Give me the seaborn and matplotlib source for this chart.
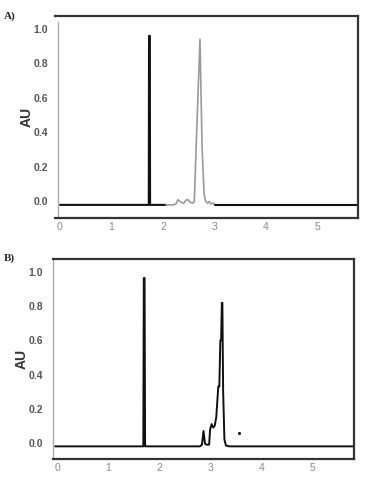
import matplotlib
matplotlib.use("Agg")
import matplotlib.pyplot as plt
import seaborn as sns
import pandas as pd
from matplotlib.ticker import MultipleLocator

sns.set_theme(style="white")
plt.rcParams["font.family"] = ["Liberation Sans", "DejaVu Sans"]

# ---- Data (retention time in min, absorbance in AU) ----
# Panel A
a_pre_time = [0.0, 1.725, 1.73, 1.745, 1.75, 2.06]
a_pre_au = [-0.02, -0.02, 0.96, 0.96, -0.02, -0.02]
a_peak_time = [2.06, 2.2, 2.25, 2.29, 2.33, 2.4, 2.45, 2.49, 2.53, 2.58, 2.61, 2.655,
               2.72, 2.76, 2.80, 2.83, 2.87, 2.9, 2.93, 2.97, 3.02]
a_peak_au = [-0.02, -0.02, -0.015, 0.01, 0.0, -0.012, 0.008, 0.01, -0.005, -0.01, 0.0,
             0.4, 0.94, 0.32, 0.04, 0.0, -0.01, 0.0, -0.015, -0.01, -0.02]
a_post_time = [3.02, 5.79]
a_post_au = [-0.02, -0.02]

# Panel B
b_time = [-0.04, 1.69, 1.70, 1.715, 1.725, 2.8, 2.84, 2.87, 2.9, 2.93, 2.98, 3.0, 3.03,
          3.06, 3.09, 3.12, 3.16, 3.18, 3.2, 3.215, 3.23, 3.24, 3.255, 3.28, 3.31, 3.37, 5.82]
b_au = [-0.02, -0.02, 0.965, 0.965, -0.02, -0.02, -0.01, 0.07, -0.005, -0.01, -0.01, 0.08,
        0.11, 0.09, 0.1, 0.15, 0.33, 0.33, 0.6, 0.6, 0.82, 0.82, 0.3, 0.02, -0.015, -0.02, -0.02]
b_dot_time = [3.57]
b_dot_au = [0.06]

x_ticks = [0, 1, 2, 3, 4, 5]
y_ticks = [0.0, 0.2, 0.4, 0.6, 0.8, 1.0]
y_ticklabels = ["0.0", "0.2", "0.4", "0.6", "0.8", "1.0"]

W, H = 377, 483
fig = plt.figure(figsize=(W / 100, H / 100), dpi=100)

def frac(l, t, r, b):
    return [l / W, 1 - b / H, (r - l) / W, (b - t) / H]

axA = fig.add_axes(frac(55, 16, 358, 218))
axB = fig.add_axes(frac(53, 259, 354, 459))

sns.lineplot(x=a_pre_time, y=a_pre_au, ax=axA, color="#111111", lw=1.5, sort=False, estimator=None)
sns.lineplot(x=a_peak_time, y=a_peak_au, ax=axA, color="#9a9a9a", lw=1.2, sort=False, estimator=None)
sns.lineplot(x=a_post_time, y=a_post_au, ax=axA, color="#111111", lw=1.5, sort=False, estimator=None)

sns.lineplot(x=b_time, y=b_au, ax=axB, color="#111111", lw=1.4, sort=False, estimator=None)
sns.scatterplot(x=b_dot_time, y=b_dot_au, ax=axB, color="#111111", s=5, linewidth=0)

def style(ax, xlim, ylim, left_pos, left_top):
    ax.set_xlim(*xlim)
    ax.set_ylim(*ylim)
    ax.set_xticks(x_ticks)
    ax.set_xticklabels([str(v) for v in x_ticks])
    ax.set_yticks(y_ticks)
    ax.set_yticklabels(y_ticklabels)
    ax.yaxis.set_minor_locator(MultipleLocator(0.05))
    for s in ["top", "right", "bottom"]:
        ax.spines[s].set_color("#333333")
        ax.spines[s].set_linewidth(1.6)
    ax.spines["left"].set_color("#aaaaaa")
    ax.spines["left"].set_linewidth(1.0)
    ax.spines["left"].set_position(("data", left_pos))
    ax.spines["left"].set_bounds(ylim[0], left_top)
    ax.tick_params(axis="y", which="major", direction="in", length=0, labelsize=7.5,
                   labelcolor="#555555", pad=7)
    ax.tick_params(axis="y", which="minor", length=2, color="#cccccc", direction="in")
    ax.tick_params(axis="x", length=0, labelsize=7.5, labelcolor="#8a8a8a", pad=3)
    for lab in ax.get_yticklabels():
        lab.set_fontweight("bold")
    ax.set_xlabel("")
    ax.set_ylabel("AU", fontsize=10, fontweight="bold", color="#333333", labelpad=0)
    ax.grid(False)

style(axA, (-0.097, 5.79), (-0.096, 1.075), -0.04, 1.04)
style(axB, (-0.08, 5.82), (-0.094, 1.076), -0.08, 1.07)

fig.text(4 / W, 1 - 16 / H, "A)", fontsize=8, fontweight="bold",
         family=["Liberation Serif", "DejaVu Serif"], va="center", ha="left")
fig.text(4 / W, 1 - 258 / H, "B)", fontsize=8, fontweight="bold",
         family=["Liberation Serif", "DejaVu Serif"], va="center", ha="left")

fig.savefig("out.png", dpi=100, facecolor="white")
